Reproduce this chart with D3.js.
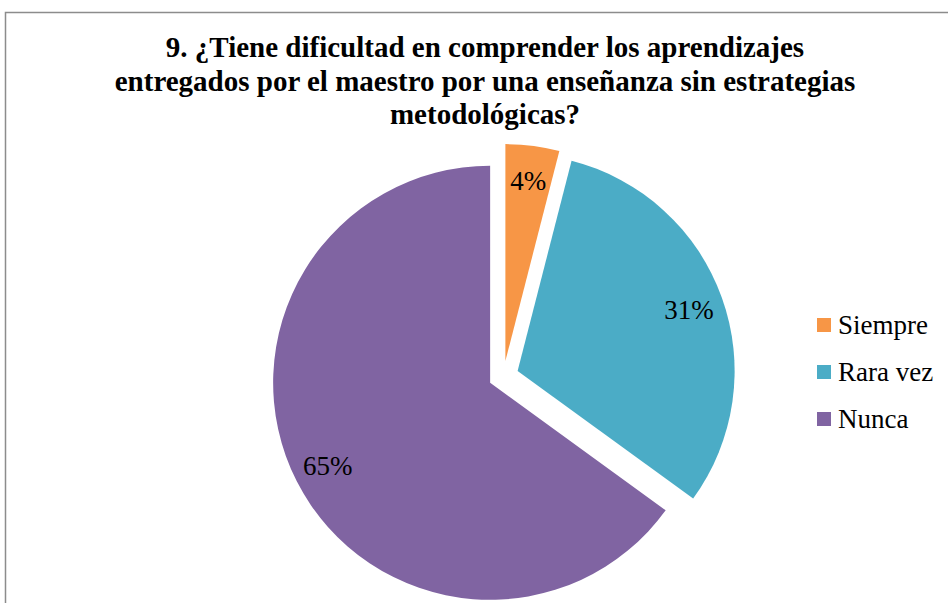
<!DOCTYPE html>
<html>
<head>
<meta charset="utf-8">
<title>Pregunta 9</title>
<script src="https://cdn.jsdelivr.net/npm/d3@7"></script>
<style>
  body { margin: 0; background: #fff; }
  text { font-family: "Liberation Serif", "DejaVu Serif", serif; }
</style>
</head>
<body>
<div id="chart"></div>
<script>
// data
var categories = ["Siempre", "Rara vez", "Nunca"];
var values = [4, 31, 65];
var titleLines = [
  "9. ¿Tiene dificultad en comprender los aprendizajes",
  "entregados por el maestro por una enseñanza sin estrategias",
  "metodológicas?"
];

var width = 948, height = 603;
var colors = ["#F79646", "#4BACC6", "#8064A2"];
var cx = 503.5, cy = 376, radius = 217, explode = 15;

var svg = d3.select("#chart").append("svg")
  .attr("width", width)
  .attr("height", height);

// chart frame (runs off the right and bottom edge)
svg.append("rect")
  .attr("x", 5.5).attr("y", 12.5)
  .attr("width", 960).attr("height", 620)
  .attr("fill", "#fff")
  .attr("stroke", "#8c8c8c")
  .attr("stroke-width", 1.5);

// title
svg.append("g").selectAll("text").data(titleLines).enter().append("text")
  .attr("x", 485)
  .attr("y", function(d, i) { return 57 + i * 33.5; })
  .attr("text-anchor", "middle")
  .attr("font-weight", "bold")
  .attr("font-size", 29)
  .attr("fill", "#000")
  .text(function(d) { return d; });

var pie = d3.pie().sort(null).value(function(d) { return d; });
var arcs = pie(values);
var arc = d3.arc().innerRadius(0).outerRadius(radius);
var labelArc = d3.arc().innerRadius(radius * 0.84).outerRadius(radius * 0.84);

function shift(d) {
  var a = (d.startAngle + d.endAngle) / 2;
  return [cx + explode * Math.sin(a), cy - explode * Math.cos(a)];
}

var slices = svg.append("g").selectAll("g").data(arcs).enter().append("g")
  .attr("transform", function(d) { var p = shift(d); return "translate(" + p[0] + "," + p[1] + ")"; });

slices.append("path")
  .attr("d", arc)
  .attr("fill", function(d, i) { return colors[i]; });

slices.append("text")
  .attr("transform", function(d) { return "translate(" + labelArc.centroid(d) + ")"; })
  .attr("text-anchor", "middle")
  .attr("dy", "0.35em")
  .attr("font-size", 27)
  .attr("fill", "#000")
  .text(function(d) { return d.data + "%"; });

// legend
var legend = svg.append("g").selectAll("g").data(categories).enter().append("g")
  .attr("transform", function(d, i) { return "translate(817," + (318 + i * 47) + ")"; });

legend.append("rect")
  .attr("width", 14).attr("height", 14)
  .attr("fill", function(d, i) { return colors[i]; });

legend.append("text")
  .attr("x", 21).attr("y", 16)
  .attr("font-size", 27)
  .attr("fill", "#000")
  .text(function(d) { return d; });
</script>
</body>
</html>
